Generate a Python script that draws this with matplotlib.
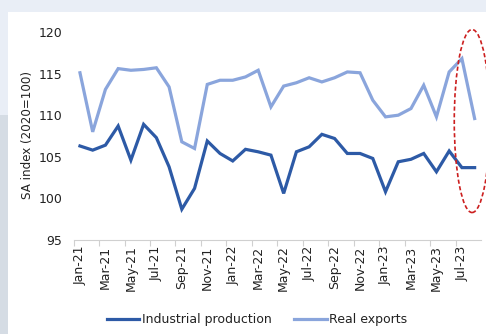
import matplotlib.pyplot as plt
from matplotlib.patches import Ellipse, Rectangle
from matplotlib.lines import Line2D

plt.rcParams["font.family"] = ["DejaVu Sans"]

# Monthly series, Jan-21 to Aug-23
months = ["Jan-21", "Feb-21", "Mar-21", "Apr-21", "May-21", "Jun-21", "Jul-21", "Aug-21",
          "Sep-21", "Oct-21", "Nov-21", "Dec-21", "Jan-22", "Feb-22", "Mar-22", "Apr-22",
          "May-22", "Jun-22", "Jul-22", "Aug-22", "Sep-22", "Oct-22", "Nov-22", "Dec-22",
          "Jan-23", "Feb-23", "Mar-23", "Apr-23", "May-23", "Jun-23", "Jul-23", "Aug-23"]

industrial_production = [106.3, 105.8, 106.4, 108.7, 104.6, 108.9, 107.3, 103.8,
                         98.7, 101.2, 106.9, 105.4, 104.5, 105.9, 105.6, 105.2,
                         100.6, 105.6, 106.2, 107.7, 107.2, 105.4, 105.4, 104.8,
                         100.8, 104.4, 104.7, 105.4, 103.2, 105.7, 103.7, 103.7]

real_exports = [115.1, 108.0, 113.1, 115.6, 115.4, 115.5, 115.7, 113.4,
                106.8, 106.0, 113.7, 114.2, 114.2, 114.6, 115.4, 111.0,
                113.5, 113.9, 114.5, 114.0, 114.5, 115.2, 115.1, 111.8,
                109.8, 110.0, 110.8, 113.6, 109.8, 115.2, 116.8, 109.6]

DARK = "#2d5aa6"
LIGHT = "#8aa5dc"
TEXT = "#222222"

fig = plt.figure(figsize=(4.86, 3.34), dpi=100, facecolor="white")

# page background strips around the white panel
fig.patches.append(Rectangle((0, 1 - 12 / 334), 1, 12 / 334, transform=fig.transFigure,
                             facecolor="#e9eef6", edgecolor="none", zorder=0))
fig.patches.append(Rectangle((0, 1 - 115 / 334), 8 / 486, 115 / 334, transform=fig.transFigure,
                             facecolor="#e9eef6", edgecolor="none", zorder=0))
fig.patches.append(Rectangle((0, 0), 8 / 486, 1 - 115 / 334, transform=fig.transFigure,
                             facecolor="#d5dce4", edgecolor="none", zorder=0))

ax = fig.add_axes([73.6 / 486, 94 / 334, 407.4 / 486, 208 / 334])
ax.set_facecolor("none")

x = list(range(len(months)))
ax.plot(x, industrial_production, color=DARK, lw=2.3, solid_joinstyle="miter")
ax.plot(x, real_exports, color=LIGHT, lw=2.3, solid_joinstyle="miter")

ax.set_xlim(-0.5, len(months) - 0.5)
ax.set_ylim(95, 120)
ax.set_yticks([95, 100, 105, 110, 115, 120])
ax.tick_params(axis="y", length=0, labelsize=9, pad=8, labelcolor=TEXT)

# labels on every other month, tick marks on category boundaries
ax.set_xticks(x[::2])
ax.set_xticklabels(months[::2], rotation=90, fontsize=9, color=TEXT)
ax.tick_params(axis="x", which="major", length=0, pad=4)
ax.set_xticks([i - 0.5 for i in x[::2]], minor=True)
ax.tick_params(axis="x", which="minor", length=4, color="#d0d0d0", width=0.8)

for side in ["top", "right", "left"]:
    ax.spines[side].set_visible(False)
ax.spines["bottom"].set_color("#d0d0d0")
ax.spines["bottom"].set_linewidth(0.8)

fig.text(28 / 486, 1 - 135 / 334, "SA index (2020=100)", rotation=90, fontsize=8.6,
         ha="center", va="center", color=TEXT)

# highlight the latest readings
ax.add_patch(Ellipse((30.8, 109.3), 2.8, 22, fill=False, edgecolor="#cc1f1f",
                     linestyle=(0, (2.5, 1.5)), lw=1.2, clip_on=False, zorder=5))

handles = [Line2D([], [], color=DARK, lw=2.3), Line2D([], [], color=LIGHT, lw=2.3)]
fig.legend(handles, ["Industrial production", "Real exports"], loc="center",
           bbox_to_anchor=(257 / 486, 1 - 320 / 334), ncol=2, frameon=False,
           fontsize=9, handlelength=2.6, handletextpad=0.2, columnspacing=1.8,
           labelcolor=TEXT)

fig.savefig("out.png", dpi=100, facecolor=fig.get_facecolor())
